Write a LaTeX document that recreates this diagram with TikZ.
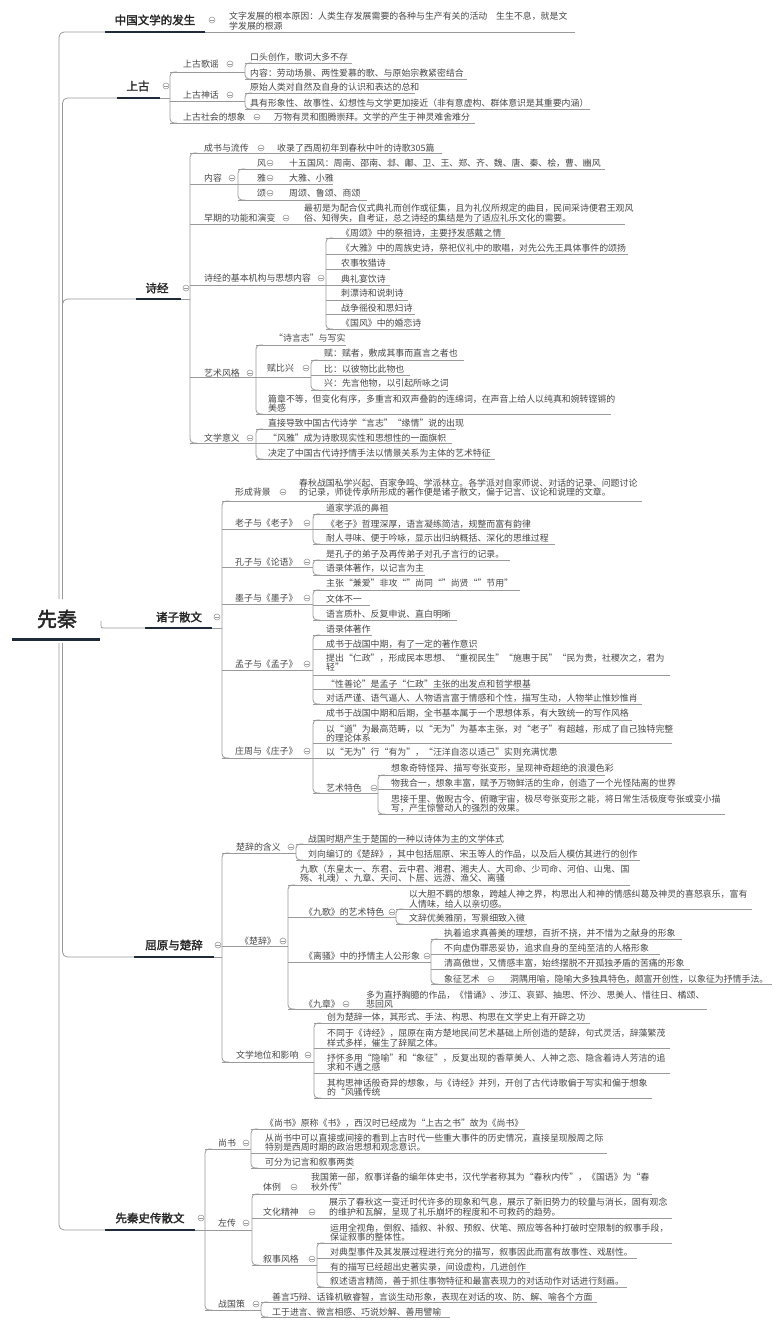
\documentclass[tikz,border=0pt]{standalone}
\usepackage{fontspec}
\setmainfont{Noto Sans CJK SC}
\newfontfamily\cjkb{Noto Sans CJK SC}[FakeBold=2]
\definecolor{lc}{HTML}{9A9A9A}
\definecolor{tc}{HTML}{484848}
\definecolor{nv}{HTML}{1F2B38}
\definecolor{hc}{HTML}{262626}
\newcommand\mmN[7]{%
  \node[txt] (#1) at (#3,#4) {#7};
  \coordinate (#1-a) at (#2,#5);
  \coordinate (#1-b) at (#6,#5);
  \draw[ln] (#1-a) -- (#1-b);}
\newcommand\mmC[3]{\node[cir] (#1) at (#2,#3) {};}
\newcommand\mmI[4]{\node[txt] (#1) at (#2,#3) {#4};}
\newcommand\mmB[2]{\draw[ln, rounded corners=4pt] ([xshift=7pt]#1-a) -- (#1-a) -- (#2-a) -- ([xshift=7pt]#2-a);}
\newcommand\mmT[9]{%
  \node[top] (#1) at (#2,#3) {#9};
  \coordinate (#1-a) at (#4,#6);
  \coordinate (#1-b) at (#5,#6);
  \coordinate (#1-v) at (#8,#6);
  \draw[ln] (#1-b) -- (#1-v);
  \draw[navy] (#1-a) -- (#1-b);
  \node[cir] (#1-c) at (#7,#3) {};}
\begin{document}
\begin{tikzpicture}[x=1pt,y=-1pt,
  ln/.style={draw=lc, line width=0.8pt},
  navy/.style={draw=nv, line width=2.6pt},
  txt/.style={anchor=west, inner sep=0pt, text=tc, font=\fontsize{8.9}{9.6}\selectfont, align=left},
  top/.style={inner sep=0pt, text=hc, font=\cjkb\fontsize{11.5}{13}\selectfont},
  root/.style={inner sep=0pt, text=hc, font=\cjkb\fontsize{20}{22}\selectfont},
  cir/.style={circle, draw=lc, line width=0.6pt, fill=white, minimum size=6pt, inner sep=0pt,
    path picture={\draw[lc, line width=0.6pt] ([xshift=-1.7pt]path picture bounding box.center) -- ([xshift=1.7pt]path picture bounding box.center);}}]
\fill[white] (0,0) rectangle (772,1327);
\useasboundingbox (0,0) rectangle (772,1327);

% ---------- root
\node[root] (R) at (57,619) {先秦};
\coordinate (R-a) at (12,639); \coordinate (R-b) at (100,639);
\draw[navy, line width=3pt] (R-a) -- (R-b);
\coordinate (R-up1) at (59,599); \coordinate (R-up2) at (62.5,599);
\coordinate (R-dn1) at (59,643); \coordinate (R-dn2) at (62.5,643);
\coordinate (R-r) at (101,621);

% ---------- 中国文学的发生
\mmT{T0}{155}{20}{105}{205}{32}{212}{205}{中国文学的发生}
\mmN{a1}{205}{229}{21}{32}{575}{文字发展的根本原因：人类生存发展需要的各种与生产有关的活动　生生不息，就是文\\学发展的根源}

% ---------- 上古
\mmT{T1}{138}{86}{117}{160}{98}{166}{170}{上古}
\mmN{b1}{170}{183}{64}{72}{245}{上古歌谣} \mmC{b1-c}{230}{64}
\mmN{b11}{245}{250}{57}{63}{352}{口头创作，歌词大多不存}
\mmN{b12}{245}{250}{73}{79}{467}{内容：劳动场景、两性爱慕的歌、与原始宗教紧密结合}
\mmB{b11}{b12}
\mmN{b2}{170}{183}{95}{101}{245}{上古神话} \mmC{b2-c}{230}{95}
\mmN{b21}{245}{250}{87}{93}{415}{原始人类对自然及自身的认识和表达的总和}
\mmN{b22}{245}{250}{103}{109}{590}{具有形象性、故事性、幻想性与文学更加接近（非有意虚构、群体意识是其重要内涵）}
\mmB{b21}{b22}
\mmN{b3}{170}{183}{117}{123}{475}{上古社会的想象} \mmC{b3-c}{257}{117}
\mmI{b31}{274}{117}{万物有灵和图腾崇拜。文学的产生于神灵难舍难分}
\mmB{b1}{b3}

% ---------- 诗经
\mmT{T2}{157}{288}{136}{181}{299}{186}{190}{诗经}
\mmN{c1}{190}{204}{148}{153}{442}{成书与流传} \mmC{c1-c}{261}{148}
\mmI{c11}{277}{148}{收录了西周初年到春秋中叶的诗歌305篇}
\mmN{c2}{190}{204}{178}{184}{238}{内容} \mmC{c2-c}{232}{178}
\mmN{c21}{238}{257}{163}{169}{605}{风} \mmC{c21-c}{270}{163}
\mmI{c21t}{289}{163}{十五国风：周南、邵南、邶、鄘、卫、王、郑、齐、魏、唐、秦、桧，曹、豳风}
\mmN{c22}{238}{257}{178}{184}{333}{雅} \mmC{c22-c}{270}{178}
\mmI{c22t}{289}{178}{大雅、小雅}
\mmN{c23}{238}{257}{193}{200}{367}{颂} \mmC{c23-c}{270}{193}
\mmI{c23t}{289}{193}{周颂、鲁颂、商颂}
\mmB{c21}{c23}
\mmN{c3}{190}{204}{218}{224}{625}{早期的功能和演变} \mmC{c3-c}{286}{218}
\mmI{c31}{304}{213.5}{最初是为配合仪式典礼而创作或征集，且为礼仪所规定的曲目，民间采诗便君王观风\\俗、知得失，自考证，总之诗经的集结是为了适应礼乐文化的需要。}
\mmN{c4}{190}{204}{278}{285}{326}{诗经的基本机构与思想内容} \mmC{c4-c}{321}{278}
\mmN{c41}{326}{341}{233}{238}{505}{《周颂》中的祭祖诗，主要抒发感戴之情}
\mmN{c42}{326}{341}{248}{254}{628}{《大雅》中的周族史诗，祭祀仪礼中的歌唱，对先公先王具体事件的颂扬}
\mmN{c43}{326}{341}{263}{269}{390}{农事牧猎诗}
\mmN{c44}{326}{341}{279}{285}{390}{典礼宴饮诗}
\mmN{c45}{326}{341}{293}{300}{408}{刺漂诗和说刺诗}
\mmN{c46}{326}{341}{308}{314}{415}{战争徭役和思妇诗}
\mmN{c47}{326}{341}{323}{329}{420}{《国风》中的婚恋诗}
\mmB{c41}{c47}
\mmN{c5}{190}{204}{373}{377}{256}{艺术风格} \mmC{c5-c}{250}{373}
\mmN{c51}{256}{274}{338}{345}{346}{“诗言志”与写实}
\mmN{c52}{256}{267}{368}{377}{311}{赋比兴} \mmC{c52-c}{306}{368}
\mmN{c521}{311}{324}{353}{360}{464}{赋：赋者，敷成其事而直言之者也}
\mmN{c522}{311}{324}{369}{375}{410}{比：以彼物比此物也}
\mmN{c523}{311}{324}{383}{390}{448}{兴：先言他物，以引起所咏之词}
\mmB{c521}{c523}
\mmN{c53}{256}{268}{403.5}{414}{611}{篇章不等，但变化有序，多重言和双声叠韵的连绵词，在声音上给人以纯真和婉转铿锵的\\美感}
\mmB{c51}{c53}
\mmN{c6}{190}{204}{438}{443}{256}{文学意义} \mmC{c6-c}{250}{438}
\mmN{c61}{256}{268}{423}{429}{456}{直接导致中国古代诗学“言志”“缘情”说的出现}
\mmN{c62}{256}{268}{438}{443}{452}{“风雅”成为诗歌现实性和思想性的一面旗帜}
\mmN{c63}{256}{268}{453}{459}{495}{决定了中国古代诗抒情手法以情景关系为主体的艺术特征}
\mmB{c61}{c63}
\mmB{c1}{c6}

% ---------- 诸子散文
\mmT{T3}{179}{617}{145}{212}{628}{217}{222}{诸子散文}
\mmN{d1}{222}{235}{492}{501}{642}{形成背景} \mmC{d1-c}{283}{492}
\mmI{d11}{299}{487.5}{春秋战国私学兴起、百家争鸣、学派林立。各学派对自家师说、对话的记录、问题讨论\\的记录，师徒传承所形成的著作便是诸子散文，偏于记言、议论和说理的文章。}
\mmN{d2}{222}{235}{523}{529}{313}{老子与《老子》} \mmC{d2-c}{307}{523}
\mmN{d21}{313}{326}{508}{514}{388}{道家学派的鼻祖}
\mmN{d22}{313}{326}{524}{529}{530}{《老子》哲理深厚，语言凝练简洁，规整而富有韵律}
\mmN{d23}{313}{326}{538}{544}{555}{耐人寻味、便于吟咏，显示出归纳概括、深化的思维过程}
\mmB{d21}{d23}
\mmN{d3}{222}{235}{562}{567}{313}{孔子与《论语》} \mmC{d3-c}{307}{562}
\mmN{d31}{313}{326}{554}{560}{510}{是孔子的弟子及再传弟子对孔子言行的记录。}
\mmN{d32}{313}{326}{568}{575}{425}{语录体著作，以记言为主}
\mmB{d31}{d32}
\mmN{d4}{222}{235}{598}{604}{313}{墨子与《墨子》} \mmC{d4-c}{307}{598}
\mmN{d41}{313}{326}{583}{590}{520}{主张“兼爱”非攻“”尚同“”尚贤“”节用”}
\mmN{d42}{313}{326}{599}{605}{370}{文体不一}
\mmN{d43}{313}{326}{614}{620}{457}{语言质朴、反复申说、直白明晰}
\mmB{d41}{d43}
\mmN{d5}{222}{235}{664}{670}{313}{孟子与《孟子》} \mmC{d5-c}{307}{664}
\mmN{d51}{313}{326}{629}{635}{372}{语录体著作}
\mmN{d52}{313}{326}{644}{649}{477}{成书于战国中期，有了一定的著作意识}
\mmN{d53}{313}{326}{662.5}{675}{670}{提出“仁政”，形成民本思想、“重视民生”“施惠于民”“民为贵，社稷次之，君为\\轻”}
\mmN{d54}{313}{326}{684}{689}{530}{“性善论”是孟子“仁政”主张的出发点和哲学根基}
\mmN{d55}{313}{326}{698}{704}{642}{对话严谨、语气逼人、人物语言富于情感和个性，描写生动，人物举止惟妙惟肖}
\mmB{d51}{d55}
\mmN{d6}{222}{235}{751}{758}{313}{庄周与《庄子》} \mmC{d6-c}{307}{751}
\mmN{d61}{313}{326}{713}{720}{632}{成书于战国中期和后期，全书基本属于一个思想体系，有大致统一的写作风格}
\mmN{d62}{313}{326}{733.5}{743}{672}{以“道”为最高范畴，以“无为”为基本主张，对“老子”有超越，形成了自己独特完整\\的理论体系}
\mmN{d63}{313}{326}{752}{758}{520}{以“无为”行“有为”，“汪洋自恣以适己”实则充满忧患}
\mmN{d64}{313}{326}{788}{793}{378}{艺术特色} \mmC{d64-c}{374}{788}
\mmN{d641}{378}{391}{768}{775}{605}{想象奇特怪异、描写夸张变形，呈现神奇超绝的浪漫色彩}
\mmN{d642}{378}{391}{783}{789}{672}{物我合一，想象丰富，赋予万物鲜活的生命，创造了一个光怪陆离的世界}
\mmN{d643}{378}{391}{803.5}{814}{725}{思接千里、傲睨古今、俯瞰宇宙，极尽夸张变形之能，将日常生活极度夸张或变小描\\写，产生惊警动人的强烈的效果。}
\mmB{d641}{d643}
\mmB{d61}{d64}
\mmB{d1}{d6}

% ---------- 屈原与楚辞
\mmT{T4}{174}{945}{134}{214}{957}{218}{222}{屈原与楚辞}
\mmN{e1}{222}{236}{847}{853}{296}{楚辞的含义} \mmC{e1-c}{291}{847}
\mmN{e11}{296}{308}{839}{844}{502}{战国时期产生于楚国的一种以诗体为主的文学体式}
\mmN{e12}{296}{308}{854}{860}{640}{刘向编订的《楚辞》，其中包括屈原、宋玉等人的作品，以及后人模仿其进行的创作}
\mmB{e11}{e12}
\mmN{e2}{222}{240}{941}{946}{288}{《楚辞》} \mmC{e2-c}{283}{941}
\mmN{e21}{288}{300}{873.5}{885}{630}{九歌（东皇太一、东君、云中君、湘君、湘夫人、大司命、少司命、河伯、山鬼、国\\殇、礼魂）、九章、天问、卜居、远游、渔父、离骚}
\mmN{e22}{288}{304}{912}{917}{396}{《九歌》的艺术特色} \mmC{e22-c}{392}{912}
\mmN{e221}{396}{409}{899}{909}{752}{以大胆不羁的想象，跨越人神之界，构思出人和神的情感纠葛及神灵的喜怒哀乐，富有\\人情味，给人以亲切感。}
\mmN{e222}{396}{409}{918}{924}{527}{文辞优美雅丽，写景细致入微}
\mmB{e221}{e222}
\mmN{e23}{288}{304}{956}{962}{431}{《离骚》中的抒情主人公形象} \mmC{e23-c}{427}{956}
\mmN{e231}{431}{444}{933}{939}{682}{执着追求真善美的理想，百折不挠，并不惜为之献身的形象}
\mmN{e232}{431}{444}{948}{954}{660}{不向虚伪罪恶妥协，追求自身的至纯至洁的人格形象}
\mmN{e233}{431}{444}{963}{969}{690}{清高傲世，又情感丰富，始终摆脱不开孤独矛盾的苦痛的形象}
\mmN{e234}{431}{444}{979}{984}{772}{象征艺术} \mmC{e234-c}{491}{979}
\mmI{e234t}{510}{979}{洞隅用喻，隐喻大多独具特色，颇富开创性，以象征为抒情手法。}
\mmB{e231}{e234}
\mmN{e24}{288}{304}{1004}{1009}{707}{《九章》} \mmC{e24-c}{346}{1004}
\mmI{e24t}{366}{999.5}{多为直抒胸臆的作品，《惜诵》、涉江、哀郢、抽思、怀沙、思美人、惜往日、橘颂、\\悲回风}
\mmB{e21}{e24}
\mmN{e3}{222}{236}{1055}{1062}{314}{文学地位和影响} \mmC{e3-c}{308}{1055}
\mmN{e31}{314}{327}{1017}{1023}{590}{创为楚辞一体，其形式、手法、构思、构思在文学史上有开辟之功}
\mmN{e32}{314}{327}{1038}{1048}{670}{不同于《诗经》，屈原在南方楚地民间艺术基础上所创造的楚辞，句式灵活，辞藻繁茂\\样式多样，催生了辞赋之体。}
\mmN{e33}{314}{327}{1062.5}{1073}{670}{抒怀多用“隐喻”和“象征”，反复出现的香草美人、人神之恋、隐含着诗人芳洁的追\\求和不遇之感}
\mmN{e34}{314}{327}{1087.5}{1098}{652}{其构思神话般奇异的想象，与《诗经》并列，开创了古代诗歌偏于写实和偏于想象\\的“风骚传统}
\mmB{e31}{e34}
\mmB{e1}{e3}

% ---------- 先秦史传散文
\mmT{T5}{150}{1218}{105}{195}{1230}{201}{205}{先秦史传散文}
\mmN{f1}{205}{218}{1143}{1149}{251}{尚书} \mmC{f1-c}{246}{1143}
\mmN{f11}{251}{265}{1123}{1129}{525}{《尚书》原称《书》，西汉时已经成为“上古之书”故为《尚书》}
\mmN{f12}{251}{265}{1142.5}{1153}{607}{从尚书中可以直接或间接的看到上古时代一些重大事件的历史情况，直接呈现殷周之际\\特别是西周时期的政治思想和观念意识。}
\mmN{f13}{251}{265}{1162}{1168}{352}{可分为记言和叙事两类}
\mmB{f11}{f13}
\mmN{f2}{205}{218}{1223}{1230}{252}{左传} \mmC{f2-c}{246}{1223}
\mmN{f21}{252}{263}{1187}{1194}{652}{体例} \mmC{f21-c}{294}{1187}
\mmI{f21t}{311}{1182}{我国第一部，叙事详备的编年体史书，汉代学者称其为“春秋内传”，《国语》为“春\\秋外传”}
\mmN{f22}{252}{263}{1212}{1218}{672}{文化精神} \mmC{f22-c}{312}{1212}
\mmI{f22t}{329}{1207}{展示了春秋这一变迁时代许多的现象和气息，展示了新旧势力的较量与消长，固有观念\\的维护和瓦解，呈现了礼乐崩坏的程度和不可救药的趋势。}
\mmN{f23}{252}{263}{1259}{1265}{317}{叙事风格} \mmC{f23-c}{312}{1259}
\mmN{f231}{317}{330}{1232.5}{1243}{672}{运用全视角，倒叙、插叙、补叙、预叙、伏笔、照应等各种打破时空限制的叙事手段，\\保证叙事的整体性。}
\mmN{f232}{317}{330}{1252}{1258}{637}{对典型事件及其发展过程进行充分的描写，叙事因此而富有故事性、戏剧性。}
\mmN{f233}{317}{330}{1267}{1272}{530}{有的描写已经超出史著实录，间设虚构，几进创作}
\mmN{f234}{317}{330}{1281}{1287}{627}{叙述语言精简，善于抓住事物特征和最富表现力的对话动作对话进行刻画。}
\mmB{f231}{f234}
\mmB{f21}{f23}
\mmN{f3}{205}{218}{1304}{1310}{261}{战国策} \mmC{f3-c}{256}{1304}
\mmN{f31}{261}{272}{1297}{1302}{597}{善言巧辩、话锋机敏睿智，言谈生动形象，表现在对话的攻、防、解、喻各个方面}
\mmN{f32}{261}{272}{1312}{1317}{450}{工于进言、微言相感、巧说妙解、善用譬喻}
\mmB{f31}{f32}
\mmB{f1}{f3}

% ---------- trunk
\draw[ln, rounded corners=5pt] (R-up1) |- (T0-a);
\draw[ln, rounded corners=5pt] (R-up2) |- (T1-a);
\draw[ln, rounded corners=5pt] (R-up2) |- (T2-a);
\draw[ln, rounded corners=2pt] (R-r) |- (T3-a);
\draw[ln, rounded corners=5pt] (R-dn2) |- (T4-a);
\draw[ln, rounded corners=5pt] (R-dn1) |- (T5-a);
\end{tikzpicture}
\end{document}
